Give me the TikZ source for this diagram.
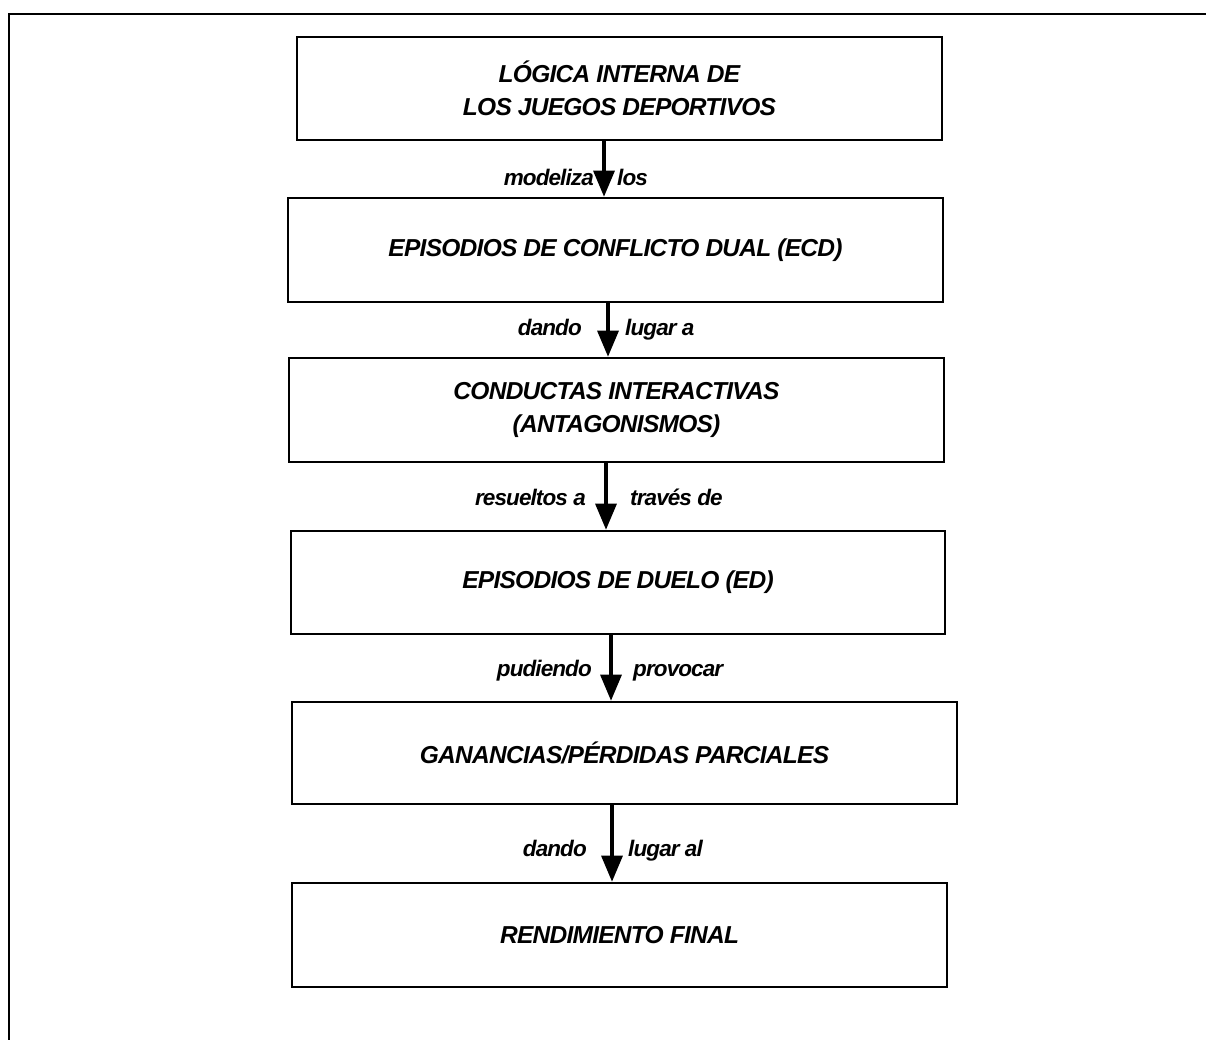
\documentclass[tikz,border=0pt]{standalone}
\usepackage{fontspec}
\setmainfont{Liberation Sans}
\usetikzlibrary{arrows.meta}
\begin{document}
\begin{tikzpicture}[x=1pt,y=-1pt,
  box/.style={draw, line width=2.6pt, rectangle, inner sep=0pt, align=center,
    font=\fontsize{24.5}{33}\selectfont\bfseries\itshape\addfontfeature{LetterSpace=-3}},
  lbl/.style={inner sep=0pt, font=\fontsize{22.5}{25}\selectfont\bfseries\itshape\addfontfeature{LetterSpace=-4}},
  arr/.style={line width=3.2pt, -{Triangle[width=21pt,length=26pt]}},
  frame/.style={line width=2.4pt}]
\useasboundingbox (0,0) rectangle (1206,1040);
% outer frame (top and left edges visible)
\coordinate (fTL) at (9,14);
\coordinate (fTR) at (1206,14);
\coordinate (fBL) at (9,1040);
\draw[frame] (fTR) -- (fTL) -- (fBL);
% boxes
\node[box, minimum width=645pt, minimum height=103pt] (b1) at (619.5,88.5)
  {LÓGICA INTERNA DE\\LOS JUEGOS DEPORTIVOS};
\node[box, minimum width=655pt, minimum height=104pt] (b2) at (615.5,250)
  {EPISODIOS DE CONFLICTO DUAL (ECD)};
\node[box, minimum width=655pt, minimum height=104pt] (b3) at (616.5,410)
  {CONDUCTAS INTERACTIVAS\\(ANTAGONISMOS)};
\node[box, minimum width=654pt, minimum height=103pt] (b4) at (618,582.5)
  {EPISODIOS DE DUELO (ED)};
\node[box, minimum width=665pt, minimum height=102pt] (b5) at (624.5,753)
  {GANANCIAS/PÉRDIDAS PARCIALES};
\node[box, minimum width=655pt, minimum height=104pt] (b6) at (619.5,935)
  {RENDIMIENTO FINAL};
% arrow x positions
\coordinate (x1) at (604,0);
\coordinate (x2) at (608,0);
\coordinate (x3) at (606,0);
\coordinate (x4) at (611,0);
\coordinate (x5) at (612,0);
\draw[arr] (b1.south -| x1) -- (b2.north -| x1);
\draw[arr] (b2.south -| x2) -- (b3.north -| x2);
\draw[arr] (b3.south -| x3) -- (b4.north -| x3);
\draw[arr] (b4.south -| x4) -- (b5.north -| x4);
\draw[arr] (b5.south -| x5) -- (b6.north -| x5);
% labels
\node[lbl, anchor=base east] (l1a) at (594,186) {modeliza};
\node[lbl, anchor=base west] (l1b) at (617,186) {los};
\node[lbl, anchor=base east] (l2a) at (582,335) {dando};
\node[lbl, anchor=base west] (l2b) at (625,335) {lugar a};
\node[lbl, anchor=base east] (l3a) at (586,505) {resueltos a};
\node[lbl, anchor=base west] (l3b) at (630,505) {través de};
\node[lbl, anchor=base east] (l4a) at (592,676) {pudiendo};
\node[lbl, anchor=base west] (l4b) at (633,676) {provocar};
\node[lbl, anchor=base east] (l5a) at (587,856) {dando};
\node[lbl, anchor=base west] (l5b) at (628,856) {lugar al};
\end{tikzpicture}
\end{document}
